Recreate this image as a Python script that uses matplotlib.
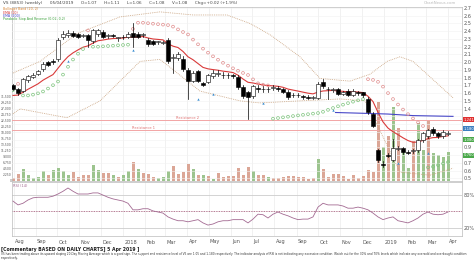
import numpy as np
import pandas as pd
import matplotlib
matplotlib.use("Agg")
import matplotlib.pyplot as plt
from matplotlib.patches import Rectangle
import matplotlib.transforms as mtransforms

# ---------------- data ----------------
start_date = "2017-07-31"
opens = [1.70,1.65,1.63,1.77,1.81,1.85,1.91,2.00,2.02,2.04,2.32,2.35,2.38,2.36,2.34,2.35,2.27,2.36,2.39,2.34,
         2.35,2.31,2.32,2.33,2.38,2.37,2.35,2.29,2.27,2.26,2.25,2.29,2.05,2.06,2.04,1.90,1.76,1.88,1.73,1.75,
         1.82,1.85,1.84,1.83,1.83,1.81,1.68,1.61,1.56,1.67,1.66,1.65,1.67,1.67,1.66,1.62,1.57,1.58,1.56,1.55,
         1.54,1.54,1.75,1.66,1.64,1.65,1.59,1.63,1.58,1.61,1.61,1.53,1.33,0.86,0.68,0.80,0.74,0.88,0.89,0.84,
         0.85,0.86,0.99,1.04,1.14,1.08,1.04,1.07]
highs = [1.72,1.67,1.80,1.84,1.86,1.90,2.00,2.02,2.04,2.31,2.40,2.41,2.40,2.38,2.37,2.37,2.43,2.43,2.41,2.37,
         2.36,2.33,2.35,2.39,2.51,2.39,2.38,2.31,2.29,2.28,2.28,2.31,2.10,2.13,2.08,1.93,1.88,1.90,1.75,1.85,
         1.90,1.90,1.87,1.86,1.85,1.83,1.70,1.63,1.71,1.70,1.69,1.68,1.71,1.69,1.67,1.64,1.60,1.60,1.58,1.57,
         1.56,1.74,1.78,1.68,1.67,1.67,1.63,1.65,1.65,1.63,1.62,1.55,1.35,0.88,0.72,0.83,1.01,0.92,0.91,0.86,
         0.88,1.01,1.10,1.14,1.16,1.10,1.12,1.11]
lows = [1.64,1.57,1.61,1.75,1.79,1.83,1.89,1.95,1.98,2.02,2.30,2.33,2.32,2.31,2.32,2.20,2.25,2.34,2.31,2.31,
        2.32,2.27,2.30,2.31,2.19,2.31,2.33,2.21,2.22,2.23,2.23,1.99,1.86,2.03,1.89,1.53,1.74,1.74,1.69,1.73,
        1.80,1.82,1.80,1.80,1.80,1.66,1.54,1.27,1.54,1.62,1.62,1.61,1.64,1.63,1.60,1.53,1.55,1.55,1.53,1.52,
        1.52,1.52,1.67,1.53,1.62,1.57,1.57,1.56,1.56,1.58,1.55,1.33,1.16,0.71,0.64,0.77,0.72,0.86,0.82,0.81,
        0.83,0.84,0.97,1.02,1.06,1.02,1.02,1.06]
closes = [1.66,1.60,1.78,1.82,1.84,1.88,1.98,1.97,2.00,2.29,2.37,2.38,2.34,2.33,2.35,2.29,2.41,2.41,2.33,2.35,
          2.34,2.32,2.33,2.37,2.33,2.33,2.36,2.23,2.24,2.27,2.26,2.01,2.07,2.11,1.91,1.76,1.86,1.76,1.71,1.83,
          1.86,1.86,1.83,1.84,1.82,1.68,1.56,1.55,1.69,1.66,1.65,1.66,1.68,1.66,1.62,1.55,1.58,1.57,1.55,1.54,
          1.55,1.72,1.69,1.65,1.65,1.59,1.61,1.58,1.63,1.60,1.57,1.35,1.18,0.73,0.67,0.79,0.89,0.89,0.84,0.83,
          0.86,0.99,1.08,1.12,1.08,1.04,1.10,1.08]
volumes = [3,7,12,6,3,4,10,6,11,13,10,6,9,4,6,6,16,11,8,8,
           6,4,6,10,19,12,8,7,4,3,4,10,15,7,9,17,12,6,6,5,
           2,8,4,5,5,13,6,14,10,6,6,4,3,3,4,5,5,4,4,2,
           3,22,12,4,7,7,5,2,6,3,5,11,9,79,34,45,74,53,31,13,
           40,58,31,61,28,26,24,29]
vol_up = [0,0,1,1,1,1,1,0,1,1,1,1,0,0,0,0,1,1,0,0,
          1,0,1,1,0,1,0,0,0,1,1,1,0,0,0,0,1,0,1,0,
          1,0,0,0,0,0,0,0,1,0,0,1,0,0,0,0,0,0,0,0,
          0,1,0,0,0,0,0,0,0,0,0,0,0,0,1,0,1,0,1,1,
          0,1,1,0,1,1,1,1]
rsi = [69,62,65,71,75,76,76,76,78,82,87,93,87,82,82,82,84,84,80,76,
       73,71,69,65,53,53,55,55,51,49,47,40,36,33,33,31,33,35,29,25,
       27,31,33,33,35,35,35,29,36,45,44,38,45,49,45,42,38,35,36,36,
       40,58,65,62,62,62,60,56,56,58,56,53,47,40,35,38,40,33,31,29,
       33,38,45,49,45,44,45,49]
ema_start = 1.55
ema200_idx = [64.5, 70, 75, 80, 88]
ema200_val = [1.35, 1.34, 1.33, 1.31, 1.30]
bbu_idx = [0, 5.4, 12.8, 21.4, 29.4, 36, 42.8, 47.4, 51.4, 57.4, 61.4, 67.4, 71.4, 74.8, 77.4, 80, 88]
bb_upper = [1.86, 2.01, 2.37, 2.585, 2.65, 2.61, 2.61, 2.50, 2.355, 2.07, 1.79, 1.755, 1.845, 2.01, 2.07, 2.01, 1.54]
bbl_idx = [0, 1.4, 10.8, 17.4, 25.4, 29.4, 37.4, 45.4, 49.4, 57.4, 65.4, 70.4, 73.4, 77.4, 83.4, 88]
bb_lower = [1.333, 1.397, 1.282, 1.50, 2.01, 2.036, 1.627, 1.50, 1.474, 1.50, 1.525, 1.50, 1.116, 0.58, 0.54, 0.63]
signal_idx = [11, 24, 37, 40, 50, 64, 77, 83]
signal_val = [2.01, 2.16, 1.525, 1.59, 1.474, 1.385, 0.695, 0.823]
resistance = {"Resistance 2": 1.257, "Resistance 1": 1.129}
price_ticks = [0.5,0.6,0.7,0.9,1.4,1.5,1.6,1.7,1.8,1.9,2.0,2.1,2.2,2.3,2.4,2.5,2.6,2.7]
rsi_levels = [80, 50, 20]

# ---------------- figure ----------------
W, H = 474, 263
fig = plt.figure(figsize=(W/100, H/100), dpi=100)
fig.patch.set_facecolor("white")
FS = 3.6
left, right = 12, 462
rect_main = [left/W, 1-181/H, (right-left)/W, 174/H]
rect_rsi = [left/W, 1-236/H, (right-left)/W, 54/H]

n = len(closes)
x = np.arange(n)
xlim = (-0.2, 89.8)

axv = fig.add_axes(rect_main)
ax = fig.add_axes(rect_main, sharex=axv)
ax.patch.set_visible(False)
axr = fig.add_axes(rect_rsi, sharex=axv)

# month ticks
d0 = pd.Timestamp(start_date)
months = pd.date_range("2017-08-01", "2019-04-01", freq="MS")
mpos = [(m - d0).days / 7.0 for m in months]
mlab = [str(m.year) if m.month == 1 else m.strftime("%b") for m in months]

for a in (axv, axr):
    for p in mpos:
        a.axvline(p, color="#ebebeb", lw=0.5, zorder=0)

# volume (left axis)
vcol = ["#9cc48e" if u else "#dba696" for u in vol_up]
axv.bar(x, volumes, width=0.6, color=vcol, zorder=1)
axv.set_ylim(0, 174)
axv.set_xlim(*xlim)
vt = np.arange(0, 86, 6)
axv.set_yticks(vt)
axv.set_yticklabels([f"{int(v*375):,}" for v in vt], fontsize=2.2, color="#555555")
axv.tick_params(axis="y", length=0, pad=0.5)
axv.tick_params(axis="x", length=0, labelbottom=False)
for s in axv.spines.values():
    s.set_color("#bbbbbb"); s.set_linewidth(0.5)

# price
ax.set_ylim(0.465, 2.713)
ax.set_xlim(*xlim)
ax.yaxis.tick_right()
ax.set_yticks(price_ticks)
ax.set_yticklabels([f"{t:.1f}" for t in price_ticks], fontsize=FS, color="#555555")
ax.tick_params(axis="y", length=0, pad=1)
ax.tick_params(axis="x", length=0, labelbottom=False)
for t in np.arange(0.5, 2.75, 0.1):
    ax.axhline(t, color="#f2f2f2", lw=0.4, zorder=0)
for s in ax.spines.values():
    s.set_visible(False)

# resistance lines
for name, val in resistance.items():
    ax.axhline(val, color="#f2a5a5", lw=0.7, zorder=1)
ax.text(26, resistance["Resistance 1"], "Resistance 1", fontsize=2.6, color="#e07070", va="bottom", ha="center")
ax.text(35, resistance["Resistance 2"], "Resistance 2", fontsize=2.6, color="#e07070", va="bottom", ha="center")

# bollinger
ax.plot(bbu_idx, bb_upper, color="#c9a27e", lw=0.6, ls=(0, (1, 1.2)), zorder=2)
ax.plot(bbl_idx, bb_lower, color="#c9a27e", lw=0.6, ls=(0, (1, 1.2)), zorder=2)

# EMA 10
alpha = 2 / 11.0
ema = []
prev = ema_start
for c in closes:
    prev = prev + alpha * (c - prev)
    ema.append(prev)
ax.plot(x, ema, color="#d93a3a", lw=0.8, zorder=3)
ax.plot(ema200_idx, ema200_val, color="#4747c8", lw=0.8, zorder=3)

# parabolic SAR
def psar(h, l, af0=0.02, afmax=0.2):
    n = len(h)
    sar = np.zeros(n); up = np.zeros(n, bool)
    trend = True
    ep = h[0]; af = af0; sar[0] = l[0]; up[0] = True
    for i in range(1, n):
        s = sar[i-1] + af * (ep - sar[i-1])
        if trend:
            s = min(s, l[i-1], l[max(i-2, 0)])
            if l[i] < s:
                trend = False; s = ep; ep = l[i]; af = af0
            else:
                if h[i] > ep:
                    ep = h[i]; af = min(af + af0, afmax)
        else:
            s = max(s, h[i-1], h[max(i-2, 0)])
            if h[i] > s:
                trend = True; s = ep; ep = h[i]; af = af0
            else:
                if l[i] < ep:
                    ep = l[i]; af = min(af + af0, afmax)
        sar[i] = s; up[i] = trend
    return sar, up
sar, sup = psar(np.array(highs), np.array(lows))
ax.scatter(x[sup], sar[sup], s=4, facecolors="none", edgecolors="#7cc47c", linewidths=0.5, zorder=4)
ax.scatter(x[~sup], sar[~sup], s=4, facecolors="none", edgecolors="#e08c8c", linewidths=0.5, zorder=4)

# candles
for i in range(n):
    o, h_, l_, c = opens[i], highs[i], lows[i], closes[i]
    ax.plot([i, i], [l_, h_], color="black", lw=0.5, zorder=5)
    bottom = min(o, c); height = max(abs(c - o), 0.006)
    ax.add_patch(Rectangle((i - 0.35, bottom), 0.7, height,
                           facecolor="white" if c >= o else "black", edgecolor="black", lw=0.4, zorder=6))

ax.scatter(signal_idx, signal_val, marker="^", s=3, color="#3d8fd1", zorder=7, linewidths=0)

# right label boxes
def rlabel(val, text, color):
    ax.text(1.004, val, text, transform=ax.get_yaxis_transform(), fontsize=2.7, color="white",
            va="center", ha="left", zorder=10,
            bbox=dict(boxstyle="square,pad=0.12", fc=color, ec="none"))
rlabel(1.257, "1.241", "#e03030")
rlabel(1.14, "1.180", "#3c7fc0")
rlabel(1.00, "1.080", "#4aa84a")
rlabel(0.80, "0.760", "#4aa84a")

# RSI
axr.plot(x, rsi, color="#a36a92", lw=0.6, zorder=3)
axr.axhline(80, color="#cccccc", lw=0.6)
axr.axhline(20, color="#cccccc", lw=0.6)
axr.axhline(50, color="#9b4b6b", lw=0.6, ls=(0, (1, 1)))
axr.set_ylim(5, 104)
axr.set_xlim(*xlim)
axr.yaxis.tick_right()
axr.set_yticks([80, 20])
axr.set_yticklabels(["80%", "20%"], fontsize=FS, color="#555555")
axr.tick_params(axis="y", length=0, pad=1)
axr.set_xticks(mpos)
axr.set_xticklabels([])
axr.tick_params(axis="x", length=0)
for s in axr.spines.values():
    s.set_color("#bbbbbb"); s.set_linewidth(0.5)
axr.text(0.003, 0.97, "RSI (14)", transform=axr.transAxes, fontsize=2.6, color="#a36a92", va="top")
trans = mtransforms.blended_transform_factory(axr.transData, fig.transFigure)
for p, lab in zip(mpos, mlab):
    axr.text(p + 0.25, 1 - 242/H, lab, transform=trans, fontsize=FS, color="#555555", va="center", ha="left")

# header / legend
fig.text(3/W, 1 - 3/H, "VS (8853) (weekly)      05/04/2019      O=1.07      H=1.11      L=1.06      C=1.08      V=1.08      Chg=+0.02 (+1.9%)",
         fontsize=3.0, color="#444444", va="center")
fig.text(440/W, 1 - 3/H, "ChartNexus.com", fontsize=2.8, color="#bbbbbb", va="center", ha="center")
leg = [("Bollinger Band (20, 2)", "#d9883a"), ("EMA (10)", "#d93a3a"), ("EMA (200)", "#4747c8"),
       ("Parabolic Stop And Reverse (0.02, 0.2)", "#3aa03a")]
for k, (t, c) in enumerate(leg):
    fig.text(3/W, 1 - (9.3 + 3.3*k)/H, t, fontsize=2.3, color=c, va="center")

# commentary
fig.text(1/W, 1 - 249/H, "[Commentary BASED ON DAILY CHARTS] 5 Apr 2019 ]", fontsize=3.3, weight="bold", color="#222222", va="center")
fig.text(1/W, 1 - 253.5/H,
         "V5 has been trading above its upward sloping 20-Day Moving Average which is a good sign. The support and resistance level of V5 are 1.05 and 1.180 respectively. The indicator analysis of RSI is not indicating any excessive condition. Watch out for the 30% and 70% levels which indicate any oversold and overbought condition",
         fontsize=2.05, color="#333333", va="center")
fig.text(1/W, 1 - 257.5/H, "respectively.", fontsize=2.05, color="#333333", va="center")

fig.savefig("out.png", dpi=100)
